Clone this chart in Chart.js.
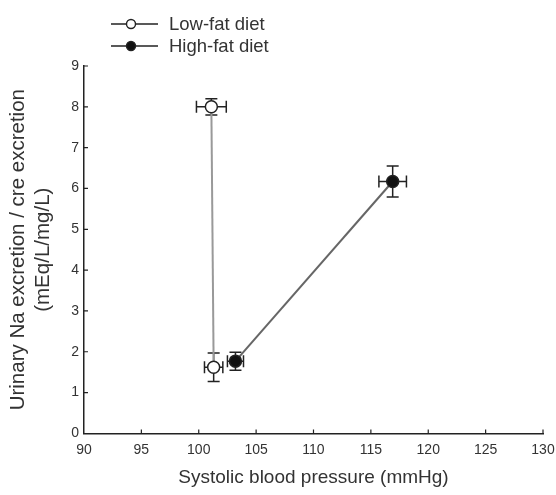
<!DOCTYPE html>
<html>
<head>
<meta charset="utf-8">
<script src="https://cdn.jsdelivr.net/npm/chart.js@4.4.0/dist/chart.umd.min.js"></script>
<style>
  html, body { margin: 0; padding: 0; background: #fff; }
  #wrap { width: 556px; height: 495px; }
</style>
</head>
<body>
<div id="wrap"><canvas id="chart" width="556" height="495"></canvas></div>
<script>
// values
const seriesNames = ['Low-fat diet', 'High-fat diet'];
const lowFatX = [101.1, 101.3];
const lowFatY = [8.0, 1.62];
const lowFatXErr = [1.3, 0.8];
const lowFatYErr = [0.2, 0.35];
const highFatX = [103.2, 116.9];
const highFatY = [1.77, 6.17];
const highFatXErr = [0.7, 1.2];
const highFatYErr = [0.22, 0.38];
const xTicks = [90, 95, 100, 105, 110, 115, 120, 125, 130];
const yTicks = [0, 1, 2, 3, 4, 5, 6, 7, 8, 9];

const FONT = "'Liberation Sans', Arial, sans-serif";
const INK = '#222';

function toPoints(xs, ys) {
    return xs.map((x, i) => ({ x: x, y: ys[i] }));
}

const errors = [
    { x: lowFatXErr, y: lowFatYErr },
    { x: highFatXErr, y: highFatYErr }
];

// error bars drawn through the chart scales
const errorBarPlugin = {
    id: 'errorBars',
    beforeDatasetsDraw(chart) {
        const ctx = chart.ctx;
        const xs = chart.scales.x, ys = chart.scales.y;
        const cap = 6;
        ctx.save();
        ctx.strokeStyle = INK;
        ctx.lineWidth = 1.5;
        chart.data.datasets.forEach((ds, di) => {
            ds.data.forEach((p, i) => {
                const px = xs.getPixelForValue(p.x);
                const py = ys.getPixelForValue(p.y);
                const x0 = xs.getPixelForValue(p.x - errors[di].x[i]);
                const x1 = xs.getPixelForValue(p.x + errors[di].x[i]);
                const y0 = ys.getPixelForValue(p.y - errors[di].y[i]);
                const y1 = ys.getPixelForValue(p.y + errors[di].y[i]);
                ctx.beginPath();
                ctx.moveTo(x0, py); ctx.lineTo(x1, py);
                ctx.moveTo(x0, py - cap); ctx.lineTo(x0, py + cap);
                ctx.moveTo(x1, py - cap); ctx.lineTo(x1, py + cap);
                ctx.moveTo(px, y0); ctx.lineTo(px, y1);
                ctx.moveTo(px - cap, y0); ctx.lineTo(px + cap, y0);
                ctx.moveTo(px - cap, y1); ctx.lineTo(px + cap, y1);
                ctx.stroke();
            });
        });
        ctx.restore();
    }
};

// inward tick marks + line/marker legend at the top
const decorPlugin = {
    id: 'decor',
    afterDraw(chart) {
        const ctx = chart.ctx;
        const xs = chart.scales.x, ys = chart.scales.y;
        const area = chart.chartArea;
        ctx.save();
        ctx.strokeStyle = INK;
        ctx.lineWidth = 1.2;
        ctx.beginPath();
        xs.ticks.forEach((t, i) => {
            if (i === 0) return;
            const px = xs.getPixelForTick(i);
            ctx.moveTo(px, area.bottom); ctx.lineTo(px, area.bottom - 4);
        });
        ys.ticks.forEach((t, i) => {
            if (i === 0) return;
            const py = ys.getPixelForTick(i);
            ctx.moveTo(area.left, py); ctx.lineTo(area.left + 4, py);
        });
        ctx.stroke();

        const rows = [24, 46];
        ctx.font = '18.5px ' + FONT;
        ctx.textBaseline = 'middle';
        chart.data.datasets.forEach((ds, di) => {
            const y = rows[di];
            ctx.strokeStyle = INK;
            ctx.lineWidth = 1.4;
            ctx.beginPath();
            ctx.moveTo(111, y); ctx.lineTo(158, y);
            ctx.stroke();
            ctx.beginPath();
            ctx.arc(131, y, 4.5, 0, Math.PI * 2);
            ctx.fillStyle = ds.pointBackgroundColor;
            ctx.fill();
            ctx.stroke();
            ctx.fillStyle = '#333';
            ctx.fillText(seriesNames[di], 169, y + 1);
        });
        ctx.restore();
    }
};

const ctx = document.getElementById('chart').getContext('2d');
new Chart(ctx, {
    type: 'scatter',
    data: {
        datasets: [
            {
                label: seriesNames[0],
                data: toPoints(lowFatX, lowFatY),
                showLine: true,
                borderColor: '#999',
                borderWidth: 2,
                pointRadius: 6,
                pointBorderWidth: 1.5,
                pointBorderColor: INK,
                pointBackgroundColor: '#fff'
            },
            {
                label: seriesNames[1],
                data: toPoints(highFatX, highFatY),
                showLine: true,
                borderColor: '#666',
                borderWidth: 2,
                pointRadius: 6,
                pointBorderWidth: 1.5,
                pointBorderColor: INK,
                pointBackgroundColor: '#111'
            }
        ]
    },
    options: {
        responsive: false,
        animation: false,
        layout: { padding: { top: 66, right: 0, left: 6, bottom: 0 } },
        plugins: {
            legend: { display: false },
            tooltip: { enabled: false }
        },
        scales: {
            x: {
                type: 'linear',
                min: 90,
                max: 130,
                afterBuildTicks: (scale) => { scale.ticks = xTicks.map(v => ({ value: v })); },
                afterFit: (scale) => { scale.paddingRight = 13; },
                grid: { drawOnChartArea: false, drawTicks: false },
                border: { color: INK, width: 1.5 },
                ticks: { color: '#333', font: { family: FONT, size: 14 }, padding: 8 },
                title: {
                    display: true,
                    text: 'Systolic blood pressure (mmHg)',
                    color: '#333',
                    font: { family: FONT, size: 19 },
                    padding: { top: 0, bottom: 6 }
                }
            },
            y: {
                type: 'linear',
                min: 0,
                max: 9,
                afterBuildTicks: (scale) => { scale.ticks = yTicks.map(v => ({ value: v })); },
                grid: { drawOnChartArea: false, drawTicks: false },
                border: { color: INK, width: 1.5 },
                ticks: { color: '#333', font: { family: FONT, size: 14 }, padding: 5 },
                title: {
                    display: true,
                    text: ['Urinary Na excretion / cre excretion', '(mEq/L/mg/L)'],
                    color: '#333',
                    font: { family: FONT, size: 20.5, lineHeight: 1.2 },
                    padding: { top: 0, bottom: 11 }
                }
            }
        }
    },
    plugins: [errorBarPlugin, decorPlugin]
});
</script>
</body>
</html>
